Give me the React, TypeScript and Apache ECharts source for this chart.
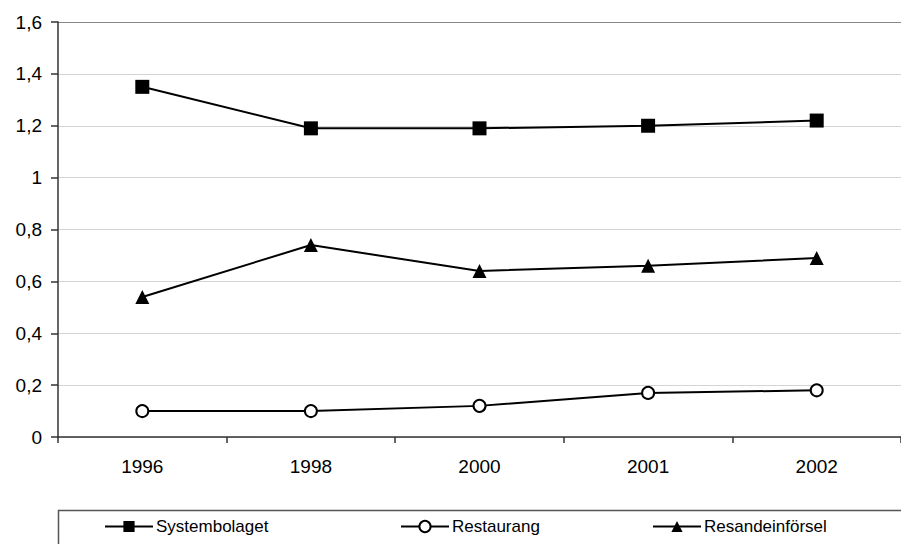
import React, { useEffect, useRef } from "react";
import * as echarts from "echarts";

const years = ["1996", "1998", "2000", "2001", "2002"];
const systembolaget = [1.35, 1.19, 1.19, 1.2, 1.22];
const restaurang = [0.1, 0.1, 0.12, 0.17, 0.18];
const resandeinforsel = [0.54, 0.74, 0.64, 0.66, 0.69];
const seriesNames = ["Systembolaget", "Restaurang", "Resandeinförsel"];

const FONT = "'Liberation Sans', Arial, Helvetica, sans-serif";

export default function App() {
  const ref = useRef<HTMLDivElement>(null);
  useEffect(() => {
    document.body.style.margin = "0";
    const chart = echarts.init(ref.current!, null, { renderer: "svg" });
    const axisText = { color: "#000", fontSize: 19, fontFamily: FONT };
    const mk = (name: string, data: number[], symbol: string, size: number, fill: string) => ({
      name,
      type: "line",
      data,
      symbol,
      symbolSize: size,
      showSymbol: true,
      lineStyle: { color: "#000", width: 2 },
      itemStyle: { color: fill, borderColor: "#000", borderWidth: fill === "#fff" ? 2 : 0 },
      emphasis: { disabled: true },
    });
    const legendBase = {
      top: 518,
      itemWidth: 48,
      itemHeight: 14,
      itemGap: 0,
      textStyle: { color: "#000", fontSize: 17, fontFamily: FONT, padding: [0, 0, 0, -2] },
      padding: 0,
    };
    chart.setOption({
      animation: false,
      backgroundColor: "#fff",
      textStyle: { fontFamily: FONT },
      grid: { left: 58, top: 22, width: 846, height: 415, containLabel: false },
      xAxis: {
        type: "category",
        data: years,
        boundaryGap: true,
        axisLine: { lineStyle: { color: "#333", width: 1.5 } },
        axisTick: { show: true, length: 6, inside: false, lineStyle: { color: "#333", width: 1.5 } },
        axisLabel: { ...axisText, margin: 20 },
        splitLine: { show: false },
      },
      yAxis: {
        type: "value",
        min: 0,
        max: 1.6,
        interval: 0.2,
        axisLine: { show: true, lineStyle: { color: "#333", width: 1.5 } },
        axisTick: { show: true, length: 7, lineStyle: { color: "#333", width: 1.5 } },
        axisLabel: {
          ...axisText,
          margin: 16,
          formatter: (v: number) => String(Math.round(v * 10) / 10).replace(".", ","),
        },
        splitLine: {
          show: true,
          lineStyle: {
            color: ["#d4d4d4", "#d4d4d4", "#d4d4d4", "#d4d4d4", "#d4d4d4", "#d4d4d4", "#d4d4d4", "#d4d4d4", "#888"],
            width: 1,
          },
        },
      },
      legend: [
        { ...legendBase, left: 104, data: [seriesNames[0]] },
        { ...legendBase, left: 400, data: [seriesNames[1]] },
        { ...legendBase, left: 652, data: [seriesNames[2]] },
      ],
      graphic: [
        {
          type: "rect",
          shape: { x: 58.5, y: 510.5, width: 900, height: 100 },
          style: { fill: "none", stroke: "#555", lineWidth: 1.5 },
          z: 0,
        },
      ],
      series: [
        mk(seriesNames[0], systembolaget, "rect", 14, "#000"),
        mk(seriesNames[1], restaurang, "circle", 12, "#fff"),
        mk(seriesNames[2], resandeinforsel, "triangle", 14, "#000"),
      ],
    });
    return () => chart.dispose();
  }, []);
  return <div ref={ref} style={{ width: 901, height: 544 }} />;
}
